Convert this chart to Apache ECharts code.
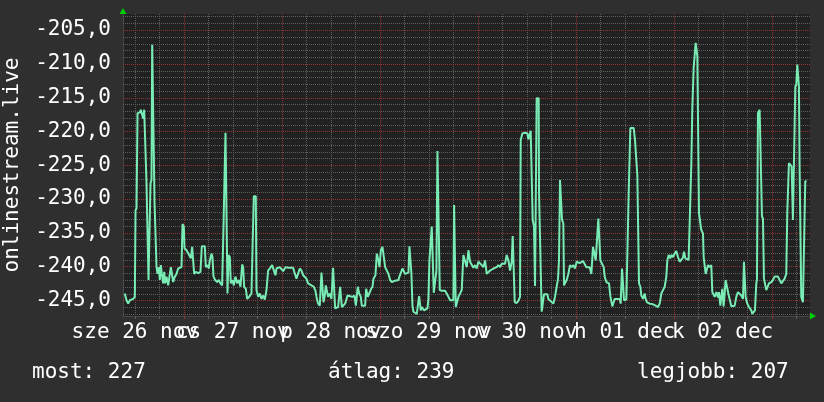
<!DOCTYPE html>
<html>
<head>
<meta charset="utf-8">
<script src="https://cdn.jsdelivr.net/npm/echarts@6/dist/echarts.min.js"></script>
<style>
html,body{margin:0;padding:0;background:#2f2f2f;}
#chart{width:824px;height:402px;}
</style>
</head>
<body>
<div id="chart"></div>
<script>
// ---- data: [hours since 26 nov 00:00, value] ----
const seg1 = [[9.55,-244.0],[9.96,-245.0],[10.37,-245.5],[10.78,-245.0],[11.59,-244.8],[12.00,-244.5],[12.17,-231.7],[12.41,-231.4],[12.66,-217.3],[13.23,-217.2],[13.47,-216.8],[13.80,-216.9],[14.04,-218.1],[14.29,-216.8],[14.61,-216.7],[14.86,-227.7],[15.10,-227.9],[15.35,-242.0],[15.68,-242.0],[15.84,-227.7],[16.08,-227.2],[16.25,-207.2],[16.66,-207.2],[16.82,-230.4],[17.06,-230.4],[17.31,-240.1],[17.55,-241.1],[17.88,-240.1],[18.12,-242.0],[18.37,-239.8],[18.61,-241.1],[18.94,-242.5],[19.19,-240.8],[19.43,-242.5],[19.76,-241.5],[20.17,-242.8],[20.57,-243.0],[20.82,-240.1],[21.14,-240.0],[21.39,-242.3],[21.80,-241.5],[22.21,-241.1],[22.61,-240.3],[23.02,-240.1],[23.43,-240.1],[23.68,-233.7],[24.00,-234.1],[24.17,-237.3],[24.65,-237.6],[25.31,-238.3],[25.72,-238.8],[26.04,-237.1],[26.29,-237.1],[26.53,-241.1],[26.94,-240.8],[27.51,-241.0],[28.08,-240.8],[28.41,-237.0],[29.14,-237.0],[29.39,-240.1],[29.80,-239.8],[30.12,-240.3],[30.37,-239.1],[30.78,-238.1],[31.02,-238.6],[31.27,-241.5],[31.68,-242.0],[32.16,-242.3],[32.57,-242.0],[32.98,-242.5],[33.39,-242.8],[33.72,-234.1],[33.96,-234.1],[34.21,-220.2],[34.53,-220.2],[34.70,-244.0],[34.94,-238.3],[35.27,-238.6],[35.51,-242.5],[35.92,-242.0],[36.25,-242.8],[36.65,-241.5],[37.06,-242.5],[37.47,-242.0],[37.88,-243.0],[38.29,-239.7],[38.53,-240.1],[38.78,-243.0],[39.19,-243.3],[39.51,-244.8],[40.00,-244.5],[40.57,-244.0],[40.98,-243.8],[41.14,-229.6],[41.63,-229.6],[41.80,-243.5],[42.20,-244.5],[42.61,-244.0],[43.02,-244.8],[43.43,-244.3],[43.84,-244.9],[44.25,-243.5],[44.65,-240.6],[45.06,-240.3],[45.63,-239.8],[46.04,-239.6],[46.45,-241.3],[46.70,-240.3],[47.10,-240.5],[47.51,-240.1],[47.92,-240.3]];
const seg2 = [[48.33,-240.7],[48.90,-240.1],[49.55,-240.2],[50.78,-240.2],[51.02,-240.7],[51.59,-241.8],[52.00,-241.8],[52.41,-240.3],[52.82,-240.6],[53.23,-241.3],[53.63,-241.3],[54.04,-241.8],[54.45,-242.5],[54.86,-242.3],[55.27,-242.8],[55.84,-243.0],[56.25,-243.6],[56.49,-244.5],[56.90,-245.5],[57.31,-245.8],[57.72,-240.9],[57.96,-241.1],[58.21,-245.3],[58.53,-244.3],[58.78,-242.8],[59.10,-243.0],[59.35,-244.5],[59.76,-244.0],[60.16,-244.8],[60.57,-240.2],[60.82,-240.2],[61.06,-246.2],[61.39,-246.2],[61.80,-246.0],[62.30,-243.0],[62.71,-246.0],[63.12,-245.8],[63.52,-245.5],[63.77,-245.0],[64.10,-244.3],[64.75,-244.4],[65.32,-244.5],[65.81,-244.3],[66.14,-245.8],[66.38,-246.0],[66.62,-243.0],[66.95,-244.0],[67.36,-244.5],[67.60,-245.8],[68.42,-245.8],[68.66,-243.3],[69.07,-244.5],[69.48,-244.3],[69.89,-243.3],[70.22,-243.0],[70.46,-241.8],[70.95,-241.3],[71.28,-238.1],[71.68,-239.1],[71.93,-240.1],[72.26,-237.6],[72.66,-237.1],[73.07,-237.1],[73.32,-240.1],[73.72,-240.6],[74.13,-241.1],[74.54,-242.0],[74.95,-242.3],[75.76,-242.1],[76.58,-242.0],[76.82,-241.5],[77.23,-241.4],[77.56,-240.3],[77.97,-240.3],[78.21,-241.1],[79.03,-240.9],[79.27,-237.0],[79.52,-237.0],[79.76,-241.1],[80.01,-245.8],[80.25,-246.7],[81.07,-247.0],[81.31,-247.0],[81.64,-244.4],[81.88,-244.5],[82.05,-246.5],[82.29,-246.0],[82.54,-245.8],[82.86,-246.5],[83.68,-246.2],[83.92,-244.8],[84.17,-239.1],[84.50,-239.1],[84.74,-234.1],[84.98,-234.1],[85.23,-243.9],[85.64,-243.9],[85.88,-240.6],[86.13,-222.9],[86.54,-222.9],[86.70,-243.5],[87.19,-243.6],[87.60,-243.8],[88.00,-243.6],[88.41,-244.0],[88.82,-244.5],[89.23,-245.0],[90.04,-245.0],[90.21,-230.9],[90.45,-230.9],[90.62,-246.0],[91.02,-245.8],[91.27,-244.5],[91.68,-244.4],[92.08,-243.5],[92.49,-238.3],[92.90,-238.3],[93.31,-240.1],[93.72,-237.6],[94.12,-239.3],[94.53,-239.2],[94.94,-240.2],[95.35,-239.8]];
const seg3 = [[95.76,-240.3],[96.16,-239.3],[96.98,-239.8],[97.39,-240.1],[97.80,-239.1],[98.20,-241.1],[98.61,-241.3],[99.02,-240.6],[99.43,-240.8],[99.84,-240.3],[100.65,-240.1],[101.06,-239.8],[101.47,-240.1],[101.88,-239.6],[102.28,-239.8],[102.69,-239.6],[103.10,-238.3],[103.51,-239.1],[103.92,-240.6],[104.32,-239.3],[104.57,-235.5],[104.81,-235.5],[105.06,-245.3],[105.55,-245.4],[105.96,-245.1],[106.36,-244.5],[106.53,-221.3],[106.94,-220.3],[107.59,-220.2],[108.16,-220.3],[108.40,-221.2],[108.81,-221.3],[108.98,-219.9],[109.30,-219.9],[109.46,-233.1],[109.79,-234.1],[110.04,-242.9],[110.28,-242.9],[110.44,-215.1],[110.93,-215.1],[111.02,-229.2],[111.42,-229.4],[111.67,-246.7],[112.00,-246.7],[112.24,-244.1],[113.06,-244.1],[113.30,-244.8],[113.71,-245.0],[114.52,-245.5],[114.93,-244.5],[115.34,-244.3],[115.67,-241.8],[115.91,-239.1],[116.16,-227.2],[116.48,-227.2],[116.65,-233.1],[116.97,-233.6],[117.14,-242.8],[117.38,-242.5],[117.79,-242.0],[118.20,-241.1],[118.60,-239.8],[119.01,-240.1],[119.42,-239.8],[119.83,-240.3],[120.24,-239.3],[120.57,-239.3],[120.98,-239.5],[121.80,-239.2],[122.20,-239.1],[122.61,-240.1],[123.02,-240.3],[123.43,-240.1],[123.84,-241.1],[124.08,-241.1],[124.24,-237.1],[124.65,-237.1],[124.90,-239.1],[125.31,-239.1],[125.55,-232.9],[125.88,-233.1],[126.04,-239.1],[126.45,-239.6],[126.86,-240.1],[127.10,-241.5],[127.51,-242.3],[128.16,-242.5],[128.49,-244.4],[128.73,-244.5],[128.98,-245.9],[129.31,-245.9],[129.55,-244.8],[130.77,-244.8],[131.02,-245.5],[131.35,-240.3],[131.59,-240.3],[131.84,-245.0],[132.41,-244.9],[132.82,-244.8],[132.98,-229.2],[133.22,-229.0],[133.39,-219.5],[134.20,-219.5],[134.53,-221.3],[134.86,-221.3],[135.10,-226.5],[135.35,-226.7],[135.51,-242.5],[135.84,-243.0],[136.08,-244.3],[136.49,-244.8],[136.90,-244.0],[137.14,-244.8],[137.47,-245.3],[138.12,-245.5],[138.94,-245.6],[139.59,-245.8],[140.16,-246.0],[140.57,-245.5],[140.98,-244.0],[141.39,-243.5],[141.80,-243.0],[142.20,-241.5],[142.45,-239.1],[142.77,-238.3],[143.18,-238.8],[143.43,-238.3],[143.84,-238.6],[144.24,-238.1],[144.65,-237.7]];
const seg4 = [[145.06,-238.6],[145.47,-239.3],[145.88,-239.2],[146.28,-238.7],[146.53,-237.8],[146.86,-238.8],[147.67,-239.0],[148.08,-238.8],[148.33,-224.7],[148.57,-216.6],[148.90,-210.6],[149.14,-210.4],[149.39,-206.9],[149.63,-206.9],[149.80,-208.9],[150.04,-208.9],[150.20,-232.1],[150.53,-232.1],[150.77,-234.6],[151.18,-235.1],[151.35,-238.6],[151.59,-238.6],[151.84,-241.1],[152.16,-241.1],[152.41,-239.8],[152.82,-240.1],[153.22,-239.8],[153.47,-243.8],[153.80,-244.0],[154.04,-244.5],[154.45,-243.8],[154.86,-244.6],[155.10,-243.8],[155.43,-245.8],[155.67,-244.5],[155.92,-243.3],[156.24,-245.9],[156.49,-244.0],[156.73,-242.0],[157.06,-243.0],[157.39,-244.0],[157.71,-244.8],[158.12,-245.9],[158.53,-246.0],[158.94,-245.8],[159.35,-244.5],[159.75,-243.8],[160.16,-243.8],[160.57,-244.3],[160.98,-244.8],[161.22,-239.3],[161.47,-239.3],[161.63,-244.5],[162.04,-245.5],[162.45,-246.0],[162.77,-246.2],[163.02,-246.5],[163.26,-247.0],[163.59,-247.2],[163.92,-246.5],[164.24,-242.5],[164.41,-242.0],[164.65,-217.3],[165.06,-216.8],[165.47,-216.7],[165.63,-232.6],[165.88,-232.9],[166.12,-241.8],[166.45,-242.0],[166.69,-243.5],[167.10,-243.5],[167.35,-242.5],[167.92,-242.3],[168.33,-242.0],[168.73,-241.5],[169.14,-241.3],[169.55,-241.5],[169.96,-242.0],[170.37,-242.5],[170.77,-242.3],[171.18,-241.8],[171.59,-241.1],[171.84,-231.9],[172.00,-231.9],[172.24,-224.7],[172.65,-224.7],[172.90,-225.2],[173.06,-229.2],[173.22,-233.1],[173.63,-233.1],[173.80,-213.4],[174.04,-213.1],[174.29,-210.1],[174.53,-210.1],[174.69,-213.4],[174.86,-225.7],[175.10,-225.7],[175.26,-244.5],[175.67,-245.3],[176.08,-245.3],[176.24,-227.4],[176.57,-227.4]];

// ---- axes / ticks ----
const xRange = [9.1, 177.4];
const yRange = [-247.33, -202.63];
const dayLabelHours = [12, 36, 60, 84, 108, 132, 156];
const dayLabels = ['sze 26 nov', 'cs 27 nov', 'p 28 nov', 'szo 29 nov', 'v 30 nov', 'h 01 dec', 'k 02 dec'];
const sixHourLines = [12, 18, 30, 36, 42, 54, 60, 66, 78, 84, 90, 102, 108, 114, 126, 132, 138, 150, 156, 162, 174];
const midnightLines = [24, 48, 72, 96, 120, 144, 168];
const yLabelValues = [-245, -240, -235, -230, -225, -220, -215, -210, -205];
const yMinorLines = [-247, -246, -244, -243, -242, -241, -239, -238, -237, -236, -234, -233, -232, -231, -229, -228, -227, -226, -224, -223, -222, -221, -219, -218, -217, -216, -214, -213, -212, -211, -209, -208, -207, -206, -204, -203];
const axisTitle = 'onlinestream.live';
const summaryNames = ['most', 'átlag', 'legjobb'];
const summaryValues = [227, 239, 207];

const FONT = 'DejaVu Sans Mono';
const LINE = '#78ecb4';
const MINOR = '#5e5e5e';
const MAJOR = '#923434';
const ARROW = '#00d000';

const series = seg1.concat(seg2, seg3, seg4);
const txt = { color: '#ffffff', fontFamily: FONT, fontSize: 21, fontWeight: 'normal' };

// crisp dotted grid lines drawn through the axes' scales
function vGrid(color) {
  return function (params, api) {
    const p = api.coord([api.value(0), yRange[0]]);
    const cs = params.coordSys;
    const x = Math.round(p[0]) + 0.5;
    const bottom = cs.y + cs.height;
    return { type: 'group', children: [
      { type: 'line', shape: { x1: x, y1: cs.y, x2: x, y2: bottom }, style: { stroke: color, lineWidth: 1, lineDash: [1, 1] } },
      { type: 'line', shape: { x1: x, y1: bottom, x2: x, y2: bottom + 3 }, style: { stroke: color, lineWidth: 1 } }
    ] };
  };
}
function hGrid(color) {
  return function (params, api) {
    const p = api.coord([xRange[0], api.value(0)]);
    const cs = params.coordSys;
    const y = Math.round(p[1]) + 0.5;
    return { type: 'line', shape: { x1: cs.x, y1: y, x2: cs.x + cs.width, y2: y }, style: { stroke: color, lineWidth: 1, lineDash: [1, 1] } };
  };
}
function dayLabel(params, api) {
  const p = api.coord([api.value(0), yRange[0]]);
  const cs = params.coordSys;
  return { type: 'text', x: p[0], y: cs.y + cs.height + 6,
    style: { text: dayLabels[params.dataIndex], fill: '#ffffff', fontFamily: FONT, fontSize: 21, align: 'center', verticalAlign: 'top' } };
}

const chart = echarts.init(document.getElementById('chart'), null, { renderer: 'canvas' });
chart.setOption({
  backgroundColor: '#2f2f2f',
  animation: false,
  textStyle: { fontFamily: FONT },
  title: [
    { text: summaryNames[0] + ': ' + summaryValues[0], left: 32, top: 362, textStyle: txt, padding: 0 },
    { text: summaryNames[1] + ': ' + summaryValues[1], left: 328, top: 362, textStyle: txt, padding: 0 },
    { text: summaryNames[2] + ': ' + summaryValues[2], left: 637, top: 362, textStyle: txt, padding: 0 }
  ],
  grid: { left: 123, right: 14, top: 14, bottom: 86, show: true, backgroundColor: '#212121', borderWidth: 0, containLabel: false, outerBoundsMode: 'none' },
  xAxis: [
    {
      type: 'value', min: xRange[0], max: xRange[1], position: 'bottom',
      axisLine: { show: true, onZero: false, lineStyle: { color: '#484848', width: 1 } },
      axisTick: { show: false }, axisLabel: { show: false }, splitLine: { show: false }
    },
    {
      type: 'value', min: xRange[0], max: xRange[1], position: 'bottom',
      axisLine: { show: true, onZero: false, symbol: ['none', 'triangle'], symbolSize: [7, 6], symbolOffset: [0, 3], lineStyle: { color: ARROW, width: 0.01 } },
      axisTick: { show: false }, axisLabel: { show: false }, splitLine: { show: false }
    }
  ],
  yAxis: [
    {
      type: 'value', min: yRange[0], max: yRange[1], position: 'left',
      axisLine: { show: true, onZero: false, lineStyle: { color: '#484848', width: 1 } },
      axisTick: { show: false },
      axisLabel: {
        show: true, customValues: yLabelValues, margin: 12, showMinLabel: true, showMaxLabel: true,
        color: '#ffffff', fontFamily: FONT, fontSize: 21,
        formatter: function (v) { return v.toFixed(1).replace('.', ','); }
      },
      splitLine: { show: false },
      name: axisTitle, nameLocation: 'middle', nameRotate: 90, nameGap: 100,
      nameTextStyle: { color: '#ffffff', fontFamily: FONT, fontSize: 21 }
    },
    {
      type: 'value', min: yRange[0], max: yRange[1], position: 'left',
      axisLine: { show: true, onZero: false, symbol: ['none', 'triangle'], symbolSize: [7, 6], symbolOffset: [0, 3], lineStyle: { color: ARROW, width: 0.01 } },
      axisTick: { show: false }, axisLabel: { show: false }, splitLine: { show: false }
    }
  ],
  series: [
    { type: 'custom', name: 'minor-y', silent: true, clip: false, z: 1, data: yMinorLines.map(v => [v]), renderItem: hGrid(MINOR) },
    { type: 'custom', name: 'minor-x', silent: true, clip: false, z: 1, data: sixHourLines.map(v => [v]), renderItem: vGrid(MINOR) },
    { type: 'custom', name: 'major-y', silent: true, clip: false, z: 1, data: yLabelValues.map(v => [v]), renderItem: hGrid(MAJOR) },
    { type: 'custom', name: 'major-x', silent: true, clip: false, z: 1, data: midnightLines.map(v => [v]), renderItem: vGrid(MAJOR) },
    { type: 'custom', name: 'days', silent: true, clip: false, z: 2, data: dayLabelHours.map(v => [v]), renderItem: dayLabel },
    {
      type: 'line', name: axisTitle, data: series, z: 3,
      showSymbol: false, symbol: 'none',
      lineStyle: { color: LINE, width: 2 },
      itemStyle: { color: LINE },
      emphasis: { disabled: true }
    }
  ]
});
</script>
</body>
</html>
